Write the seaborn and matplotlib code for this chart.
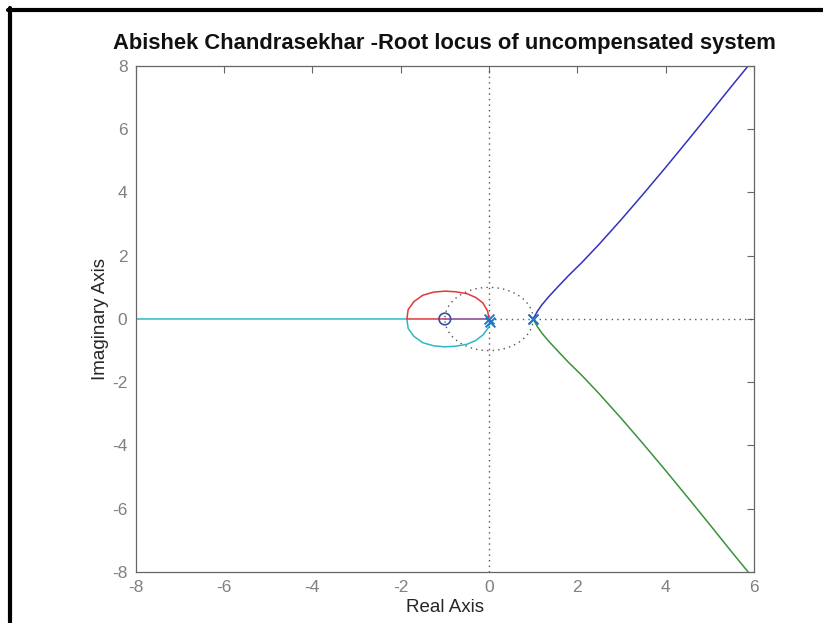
import numpy as np
import pandas as pd
import matplotlib
matplotlib.use("Agg")
import matplotlib.pyplot as plt
from matplotlib.lines import Line2D
import seaborn as sns

# Root locus branches (real part, imaginary part)
blue_re = [1.0, 1.04, 1.1, 1.2, 1.35, 1.55, 1.8, 2.1, 2.5, 3.0, 3.5, 4.0, 4.5, 5.0, 5.5, 5.87]
blue_im = [0.0, 0.1, 0.25, 0.45, 0.7, 1.0, 1.37, 1.78, 2.37, 3.15, 3.96, 4.79, 5.64, 6.5, 7.37, 8.0]
green_re = [1.0, 1.04, 1.1, 1.2, 1.35, 1.55, 1.8, 2.1, 2.5, 3.0, 3.5, 4.0, 4.5, 5.0, 5.5, 5.87]
green_im = [0.0, -0.1, -0.25, -0.45, -0.7, -1.0, -1.37, -1.78, -2.37, -3.15, -3.96, -4.79, -5.64, -6.5, -7.37, -8.0]
red_re = [0.0, -0.03, -0.14, -0.3, -0.5, -0.75, -1.0, -1.25, -1.5, -1.7, -1.83, -1.86, -1.0]
red_im = [0.0, 0.25, 0.51, 0.68, 0.8, 0.86, 0.88, 0.85, 0.75, 0.55, 0.3, 0.0, 0.0]
cyan_re = [0.03, 0.0, -0.14, -0.3, -0.5, -0.75, -1.0, -1.25, -1.5, -1.7, -1.83, -1.86, -8.0]
cyan_im = [-0.1, -0.25, -0.51, -0.68, -0.8, -0.86, -0.88, -0.85, -0.75, -0.55, -0.3, 0.0, 0.0]
purple_re = [-1.0, 0.0]
purple_im = [0.0, 0.0]

# Open-loop poles and zeros
pole_re = [0.0, 0.03, 1.0, 1.0]
pole_im = [0.0, -0.1, 0.0, 0.0]
zero_re = [-1.0]
zero_im = [0.0]

x_ticks = [-8, -6, -4, -2, 0, 2, 4, 6]
y_ticks = [-8, -6, -4, -2, 0, 2, 4, 6, 8]

sns.set_style("white")
plt.rcParams["font.family"] = ["Liberation Sans", "DejaVu Sans"]
plt.rcParams["axes.unicode_minus"] = False

fig = plt.figure(figsize=(8.23, 6.23), dpi=100)
ax = fig.add_axes([0.165, 0.0819, 0.751, 0.8122])

# Reference grid: imaginary axis, positive real axis and unit circle
grid_kw = dict(color="#555555", linestyle=(0, (1, 3)), linewidth=1.0, zorder=1)
ax.axvline(0, **grid_kw)
ax.plot([0, 6], [0, 0], **grid_kw)
theta = np.linspace(0, 2 * np.pi, 200)
ax.plot(np.cos(theta), np.sin(theta), **grid_kw)

branches = [
    (cyan_re, cyan_im, "#2cb8c8"),
    (red_re, red_im, "#e0383c"),
    (purple_re, purple_im, "#8a3d8f"),
    (blue_re, blue_im, "#3232c0"),
    (green_re, green_im, "#3a923a"),
]
for re, im, col in branches:
    df = pd.DataFrame({"re": re, "im": im})
    sns.lineplot(data=df, x="re", y="im", sort=False, estimator=None,
                 color=col, linewidth=1.1, ax=ax, zorder=2)

sns.scatterplot(x=pole_re, y=pole_im, marker="x", s=50, color="#1f78c8",
                linewidth=1.4, ax=ax, zorder=4)
ax.scatter(zero_re, zero_im, marker="o", s=70, facecolors="none",
           edgecolors="#3a4ea0", linewidths=1.2, zorder=4)

ax.set_xlim(-8, 6)
ax.set_ylim(-8, 8)
ax.set_xticks(x_ticks)
ax.set_yticks(y_ticks)
ax.tick_params(direction="in", length=5, width=0.8, colors="#666666",
               labelcolor="#808080", labelsize=12.5, top=True, right=True)
ax.tick_params(axis="x", pad=6)
ax.tick_params(axis="y", pad=6)
for s in ax.spines.values():
    s.set_color("#666666")
    s.set_linewidth(0.9)

ax.set_xlabel("Real Axis", fontsize=13.5, color="#262626", labelpad=3)
ax.set_ylabel("Imaginary Axis", fontsize=13.5, color="#262626", labelpad=2)
ax.set_title("Abishek Chandrasekhar -Root locus of uncompensated system",
             fontsize=15.8, fontweight="bold", color="#111111", pad=12)

# Black frame along the left and top edges
fig.add_artist(Line2D([10 / 823, 10 / 823], [0, 1 - 8 / 623],
                      color="black", linewidth=3, transform=fig.transFigure))
fig.add_artist(Line2D([8 / 823, 1], [1 - 10 / 623, 1 - 10 / 623],
                      color="black", linewidth=3, transform=fig.transFigure))

fig.savefig("out.png", dpi=100)
